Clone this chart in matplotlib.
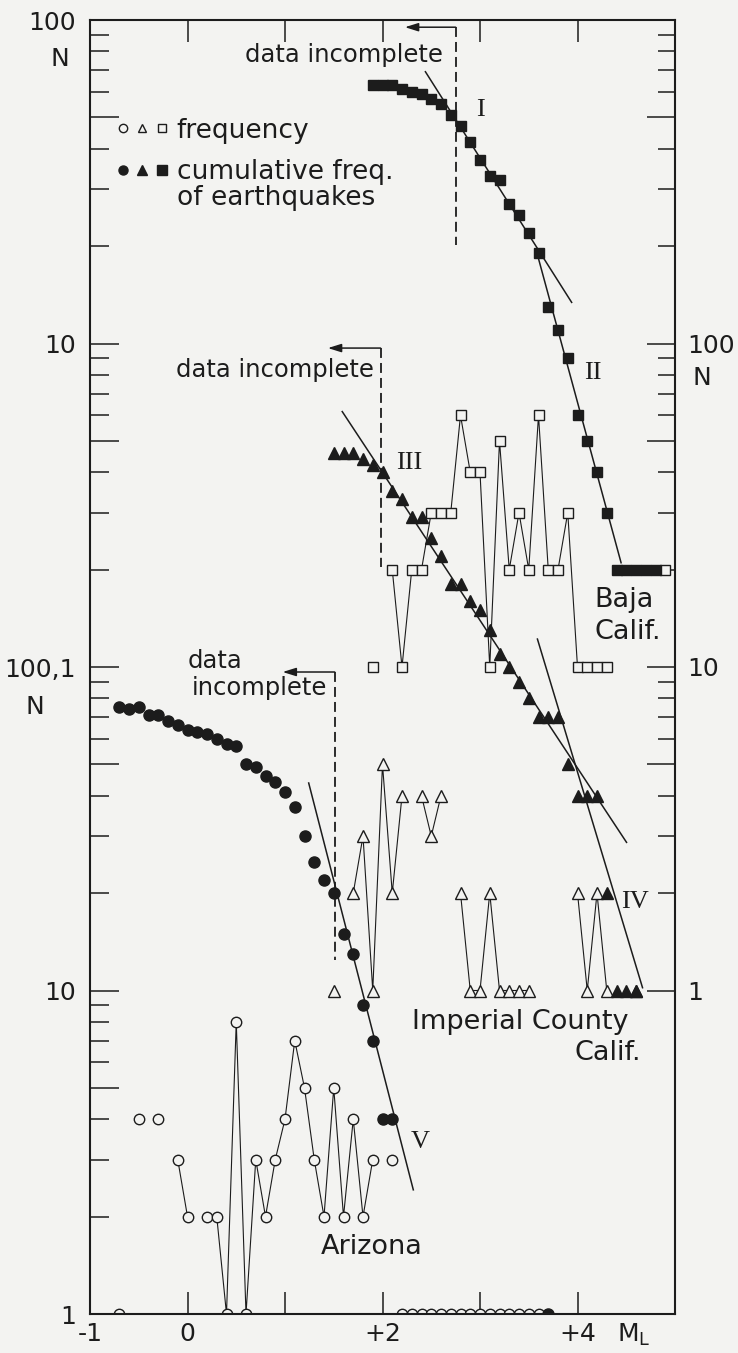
import matplotlib
matplotlib.use('Agg')
import matplotlib.pyplot as plt
import numpy as np
from matplotlib.lines import Line2D
from matplotlib.legend_handler import HandlerTuple
from matplotlib.ticker import FixedLocator, NullFormatter

INK = '#1c1c1c'
PAPER = '#f3f3f1'
SANS = 'DejaVu Sans'
SERIF = 'Liberation Serif'

# --- Baja California (upper scale on the left axis, N = 1 ... 100)
baja_m = [1.9, 2.0, 2.1, 2.2, 2.3, 2.4, 2.5, 2.6, 2.7, 2.8, 2.9, 3.0, 3.1, 3.2, 3.3, 3.4,
          3.5, 3.6, 3.7, 3.8, 3.9, 4.0, 4.1, 4.2, 4.3, 4.4, 4.5, 4.6, 4.7, 4.8, 4.9]
baja_freq = [1, 0, 2, 1, 2, 2, 3, 3, 3, 6, 4, 4, 1, 5, 2, 3,
             2, 6, 2, 2, 3, 1, 1, 1, 1, 0, 0, 0, 0, 0, 2]
baja_cum_m = [1.9, 2.0, 2.1, 2.2, 2.3, 2.4, 2.5, 2.6, 2.7, 2.8, 2.9, 3.0, 3.1, 3.2, 3.3,
              3.4, 3.5, 3.6, 3.7, 3.8, 3.9, 4.0, 4.1, 4.2, 4.3, 4.4, 4.5, 4.6, 4.7, 4.8]
baja_cum = [63, 63, 63, 61, 60, 59, 57, 55, 51, 47, 42, 37, 33, 32, 27,
            25, 22, 19, 13, 11, 9, 6, 5, 4, 3, 2, 2, 2, 2, 2]
baja_fit_I = ([2.44, 3.94], [69.2, 13.4])
baja_fit_II = ([3.575, 4.447], [19.5, 2.1])
baja_cut = 2.75

# --- Imperial County (right axis, N = 1 ... 100)
imp_m = [1.5, 1.6, 1.7, 1.8, 1.9, 2.0, 2.1, 2.2, 2.3, 2.4, 2.5, 2.6, 2.7, 2.8, 2.9, 3.0,
         3.1, 3.2, 3.3, 3.4, 3.5, 3.6, 3.7, 3.8, 3.9, 4.0, 4.1, 4.2, 4.3, 4.4, 4.5, 4.6]
imp_freq = [1, 0, 2, 3, 1, 5, 2, 4, 0, 4, 3, 4, 0, 2, 1, 1,
            2, 1, 1, 1, 1, 0, 0, 0, 0, 2, 1, 2, 1, 0, 0, 1]
imp_cum = [46, 46, 46, 44, 42, 40, 35, 33, 29, 29, 25, 22, 18, 18, 16, 15,
           13, 11, 10, 9, 8, 7, 7, 7, 5, 4, 4, 4, 2, 1, 1, 1]
imp_fit_III = ([1.587, 4.503], [61.6, 2.87])
imp_fit_IV = ([3.589, 4.667], [12.2, 1.02])
imp_cut = 1.98

# --- Arizona (lower scale on the left axis, N = 1 ... 100)
az_m = [-0.7, -0.6, -0.5, -0.4, -0.3, -0.2, -0.1, 0.0, 0.1, 0.2, 0.3, 0.4, 0.5, 0.6, 0.7,
        0.8, 0.9, 1.0, 1.1, 1.2, 1.3, 1.4, 1.5, 1.6, 1.7, 1.8, 1.9, 2.0, 2.1]
az_freq = [1, 0, 4, 0, 4, 0, 3, 2, 0, 2, 2, 1, 8, 1, 3,
           2, 3, 4, 7, 5, 3, 2, 5, 2, 4, 2, 3, 0, 3]
az_cum_m = [-0.7, -0.6, -0.5, -0.4, -0.3, -0.2, -0.1, 0.0, 0.1, 0.2, 0.3, 0.4, 0.5, 0.6, 0.7,
            0.8, 0.9, 1.0, 1.1, 1.2, 1.3, 1.4, 1.5, 1.6, 1.7, 1.8, 1.9, 2.0, 2.1, 3.7]
az_cum = [75, 74, 75, 71, 71, 68, 66, 64, 63, 62, 60, 58, 57, 50, 49,
          46, 44, 41, 37, 30, 25, 22, 20, 15, 13, 9, 7, 4, 4, 1]
az_tail_m = [2.2, 2.3, 2.4, 2.5, 2.6, 2.7, 2.8, 2.9, 3.0, 3.1, 3.2, 3.3, 3.4, 3.5, 3.6]
az_tail = [1, 1, 1, 1, 1, 1, 1, 1, 1, 1, 1, 1, 1, 1, 1]
az_fit_V = ([1.243, 2.316], [43.8, 2.42])
az_cut = 1.51


def nz(v):
    a = np.array(v, dtype=float)
    a[a == 0] = np.nan
    return a


fig = plt.figure(figsize=(7.38, 13.53), dpi=100, facecolor=PAPER)
ax = fig.add_axes([90 / 738, 1 - 1314 / 1353, 585 / 738, 1294 / 1353])
ax.set_facecolor(PAPER)
ax2 = ax.twinx()   # Imperial County scale
ax3 = ax.twinx()   # Baja California scale

ax.set_xlim(-1, 5)
ax.set_yscale('log')
ax.set_ylim(1, 1e4)
ax2.set_yscale('log')
ax2.set_ylim(0.1, 1000)
ax3.set_yscale('log')
ax3.set_ylim(0.01, 100)
ax3.yaxis.set_visible(False)

for s in ax.spines.values():
    s.set_linewidth(1.5)
    s.set_color(INK)
ax.spines['right'].set_visible(False)
for k in ['left', 'top', 'bottom']:
    ax2.spines[k].set_visible(False)
ax2.spines['right'].set_linewidth(1.5)
ax2.spines['right'].set_color(INK)
for s in ax3.spines.values():
    s.set_visible(False)

# ticks
maj_l = [1, 5, 10, 50, 100, 500, 1000, 5000, 10000]
min_l = [k * 10 ** d for d in range(4) for k in (2, 3, 4, 6, 7, 8, 9)]
ax.set_yticks(maj_l, labels=['1', '', '10', '', '100,1', '', '10', '', '100'])
ax.yaxis.set_minor_locator(FixedLocator(min_l))
ax.yaxis.set_minor_formatter(NullFormatter())
ax.tick_params(axis='y', which='major', direction='in', length=21, width=1.1,
               pad=10, labelsize=18, colors=INK)
ax.tick_params(axis='y', which='minor', direction='in', length=14, width=1.1, colors=INK)

maj_r = [1, 5, 10, 50, 100, 500]
min_r = [k * 10 ** d for d in range(3) for k in (2, 3, 4, 6, 7, 8, 9)]
ax2.set_yticks(maj_r, labels=['1', '', '10', '', '100', ''])
ax2.yaxis.set_minor_locator(FixedLocator(min_r))
ax2.yaxis.set_minor_formatter(NullFormatter())
ax2.tick_params(axis='y', which='major', direction='in', length=20, width=1.1,
                pad=9, labelsize=18, colors=INK)
ax2.tick_params(axis='y', which='minor', direction='in', length=12.5, width=1.1, colors=INK)

ax.set_xticks([-1, 0, 1, 2, 3, 4, 5], labels=['-1', '0', '', '+2', '', '+4', ''])
ax.tick_params(axis='x', direction='in', length=15.5, width=1.1, top=True,
               pad=6, labelsize=18, colors=INK)
ax.text(4.58, -0.016, 'M$_\\mathregular{L}$', transform=ax.get_xaxis_transform(),
        ha='center', va='center', fontsize=18, color=INK, family=SANS)
ax.text(-0.052, 7600, 'N', transform=ax.get_yaxis_transform(), ha='center',
        va='center', fontsize=18, color=INK, family=SANS)
ax.text(-0.094, 75, 'N', transform=ax.get_yaxis_transform(), ha='center',
        va='center', fontsize=18, color=INK, family=SANS)
ax2.text(1.046, 78, 'N', transform=ax2.get_yaxis_transform(), ha='center',
         va='center', fontsize=18, color=INK, family=SANS)

line_kw = dict(color=INK, lw=0.8)
open_kw = dict(mfc=PAPER, mec=INK, mew=1.0)
note_size = 17.5
place_size = 19.5

# Baja California
ax3.plot(baja_m, nz(baja_freq), marker='s', ms=6.8, **line_kw, **open_kw)
ax3.plot(baja_cum_m, baja_cum, ls='none', marker='s', ms=6.5, color=INK)
ax3.plot(*baja_fit_I, color=INK, lw=1.1)
ax3.plot(*baja_fit_II, color=INK, lw=1.1)
ax3.plot([baja_cut, baja_cut], [95, 20.2], color=INK, lw=1.3, dashes=(5.5, 2.8))
ax3.annotate('', xy=(2.23, 95), xytext=(baja_cut, 95),
             arrowprops=dict(arrowstyle='-|>,head_length=0.8,head_width=0.25',
                             color=INK, lw=1.1, shrinkA=0, shrinkB=0))
ax3.text(1.6, 78, 'data incomplete', ha='center', va='center', fontsize=note_size,
         color=INK, family=SANS)
ax3.text(3.0, 52.7, 'I', ha='center', va='center', fontsize=19, color=INK, family=SERIF)
ax3.text(4.16, 8.1, 'II', ha='center', va='center', fontsize=19, color=INK, family=SERIF)
ax3.text(4.17, 1.61, 'Baja', ha='left', va='center', fontsize=place_size, color=INK, family=SANS)
ax3.text(4.17, 1.28, 'Calif.', ha='left', va='center', fontsize=place_size, color=INK, family=SANS)

# Imperial County
ax2.plot(imp_m, nz(imp_freq), marker='^', ms=9, **line_kw, **open_kw)
ax2.plot(imp_m, imp_cum, ls='none', marker='^', ms=9, color=INK)
ax2.plot(*imp_fit_III, color=INK, lw=1.1)
ax2.plot(*imp_fit_IV, color=INK, lw=1.1)
ax2.plot([imp_cut, imp_cut], [96.8, 20.4], color=INK, lw=1.3, dashes=(5.5, 2.8))
ax2.annotate('', xy=(1.44, 96.8), xytext=(imp_cut, 96.8),
             arrowprops=dict(arrowstyle='-|>,head_length=0.8,head_width=0.25',
                             color=INK, lw=1.1, shrinkA=0, shrinkB=0))
ax2.text(1.91, 82.8, 'data incomplete', ha='right', va='center', fontsize=note_size,
         color=INK, family=SANS)
ax2.text(2.275, 42.7, 'III', ha='center', va='center', fontsize=19, color=INK, family=SERIF)
ax2.text(4.585, 1.88, 'IV', ha='center', va='center', fontsize=19, color=INK, family=SERIF)
ax2.text(3.41, 0.80, 'Imperial County', ha='center', va='center', fontsize=place_size,
         color=INK, family=SANS)
ax2.text(4.65, 0.64, 'Calif.', ha='right', va='center', fontsize=place_size, color=INK, family=SANS)

# Arizona
ax.plot(az_m, nz(az_freq), marker='o', ms=7.5, **line_kw, **open_kw)
ax.plot(az_tail_m, az_tail, ls='none', marker='o', ms=7.5, **open_kw)
ax.plot(az_cum_m, az_cum, ls='none', marker='o', ms=8, color=INK)
ax.plot(*az_fit_V, color=INK, lw=1.1)
ax.plot([az_cut, az_cut], [96.5, 12.4], color=INK, lw=1.3, dashes=(5.5, 2.8))
ax.annotate('', xy=(0.976, 96.5), xytext=(az_cut, 96.5),
            arrowprops=dict(arrowstyle='-|>,head_length=0.8,head_width=0.25',
                            color=INK, lw=1.1, shrinkA=0, shrinkB=0))
ax.text(0.006, 104, 'data', ha='left', va='center', fontsize=note_size, color=INK, family=SANS)
ax.text(0.04, 86, 'incomplete', ha='left', va='center', fontsize=note_size, color=INK, family=SANS)
ax.text(2.39, 3.4, 'V', ha='center', va='center', fontsize=19, color=INK, family=SERIF)
ax.text(1.37, 1.61, 'Arizona', ha='left', va='center', fontsize=place_size, color=INK, family=SANS)

# legend
freq_h = tuple(Line2D([], [], ls='none', marker=m, ms=6, mfc=PAPER, mec=INK, mew=1.0)
               for m in ['o', '^', 's'])
cum_h = tuple(Line2D([], [], ls='none', marker=m, ms=6.5, color=INK) for m in ['o', '^', 's'])
ax.legend([freq_h, cum_h], ['frequency', 'cumulative freq.'],
          handler_map={tuple: HandlerTuple(ndivide=None, pad=0.0)},
          loc='upper left', bbox_to_anchor=(0.040, 0.9245), frameon=False,
          prop={'family': SANS, 'size': 19}, handlelength=2.2, handletextpad=0.2,
          labelspacing=0.58, borderaxespad=0, borderpad=0, labelcolor=INK)
ax.text(0.149, 0.8624, 'of earthquakes', transform=ax.transAxes, ha='left', va='center',
        fontsize=19, color=INK, family=SANS)

fig.savefig('out.png', dpi=100, facecolor=PAPER)
